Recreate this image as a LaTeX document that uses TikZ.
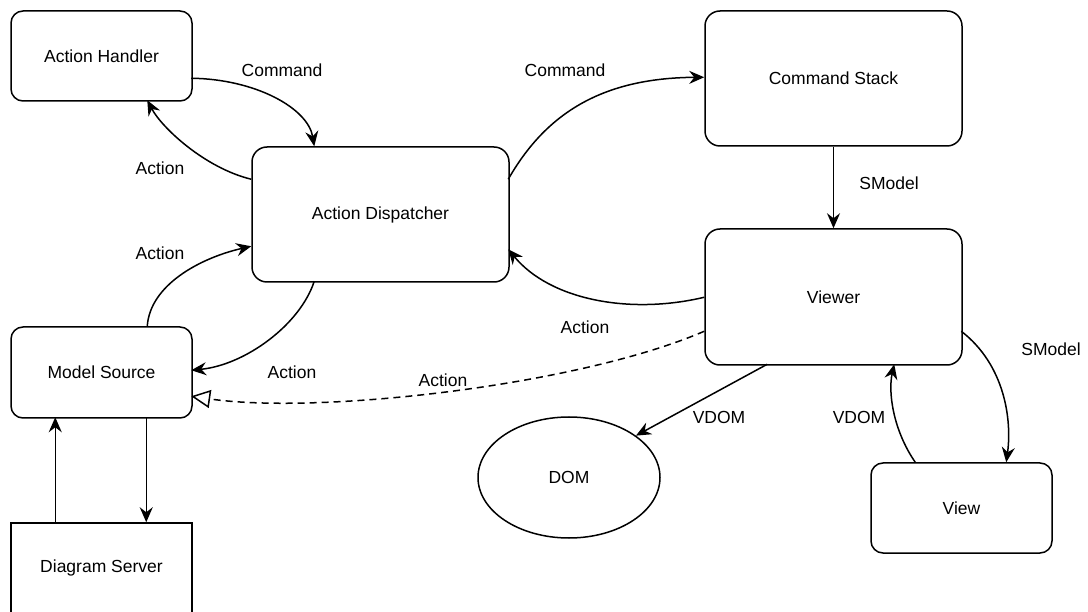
\documentclass[tikz,border=0pt]{standalone}
\usepackage{fontspec}
\setmainfont{Liberation Sans}
\usetikzlibrary{arrows.meta,shapes.geometric,calc}
\begin{document}
\begin{tikzpicture}[x=1pt,y=-1pt,
  font=\fontsize{17.5}{21}\selectfont,
  line width=1.5pt,
  smallbox/.style={draw, rounded corners=12pt, minimum width=181pt, minimum height=90pt, inner sep=0pt},
  bigbox/.style={draw, rounded corners=15pt, minimum width=257pt, minimum height=135pt, inner sep=0pt},
  plainbox/.style={draw, minimum width=181pt, minimum height=90pt, inner sep=0pt},
  oval/.style={draw, ellipse, minimum width=182pt, minimum height=121pt, inner sep=0pt},
  lbl/.style={inner sep=0pt},
  arr/.style={-{Stealth[length=15pt,width=13pt,inset=5pt]}},
  openarr/.style={-{Triangle[open,length=19pt,width=18pt]}, dash pattern=on 7pt off 5pt}
]
\useasboundingbox (0,0) rectangle (1088,612);

% components
\node[smallbox] (AH) at (101.5,56) {Action Handler};
\node[bigbox] (AD) at (380.5,214.5) {Action Dispatcher};
\node[bigbox] (CS) at (833.5,78.5) {Command Stack};
\node[bigbox, minimum height=136pt] (V) at (833.5,297) {Viewer};
\node[smallbox, minimum height=91pt] (MS) at (101.5,372.5) {Model Source};
\node[plainbox] (DS) at (101.5,568) {Diagram Server};
\node[oval] (DOM) at (569,477.5) {DOM};
\node[smallbox] (View) at (961.5,508) {View};

% flows between components
\draw[arr] ($(AH.north west)+(181,68)$) .. controls (255,79) and (308,108) .. ($(AD.north west)+(63,0)$);
\draw[arr] ($(AD.north west)+(0,33)$) .. controls (205,168) and (162,128) .. ($(AH.north west)+(137,90)$);
\draw[arr] ($(MS.north west)+(137,0)$) .. controls (150,285) and (200,258) .. ($(AD.north west)+(0,100)$);
\draw[arr] ($(AD.north west)+(63,135)$) .. controls (300,325) and (245,365) .. ($(MS.north west)+(181,44)$);
\draw[arr] ($(AD.north west)+(257,33)$) .. controls (545,115) and (600,78) .. ($(CS.north west)+(0,67)$);
\draw[arr] (CS.south) -- (V.north);
\draw[arr] ($(V.north west)+(0,69)$) .. controls (630,315) and (550,300) .. ($(AD.north west)+(257,103)$);
\draw[openarr] ($(V.north west)+(0,103)$) .. controls (580,385) and (320,415) .. ($(MS.north west)+(181,70)$);
\draw[arr] ($(V.north west)+(63,136)$) -- (DOM.32);
\draw[arr] ($(View.north west)+(45,0)$) .. controls (893,430) and (888,392) .. ($(V.north west)+(190,136)$);
\draw[arr] ($(V.north west)+(257,103)$) .. controls (1005,365) and (1012,420) .. ($(View.north west)+(136,0)$);
\draw[arr] ($(DS.north west)+(45,0)$) -- ($(MS.north west)+(45,91)$);
\draw[arr] ($(MS.north west)+(136,91)$) -- ($(DS.north west)+(136,0)$);

% flow labels
\node[lbl] (l1) at (282,70) {Command};
\node[lbl] (l2) at (160,168) {Action};
\node[lbl] (l3) at (160,253) {Action};
\node[lbl] (l4) at (565,70) {Command};
\node[lbl] (l5) at (889,183) {SModel};
\node[lbl] (l6) at (585,327) {Action};
\node[lbl] (l7) at (292,372) {Action};
\node[lbl] (l8) at (443,380) {Action};
\node[lbl] (l9) at (719,417) {VDOM};
\node[lbl] (l10) at (859,417) {VDOM};
\node[lbl] (l11) at (1051,349) {SModel};
\end{tikzpicture}
\end{document}
